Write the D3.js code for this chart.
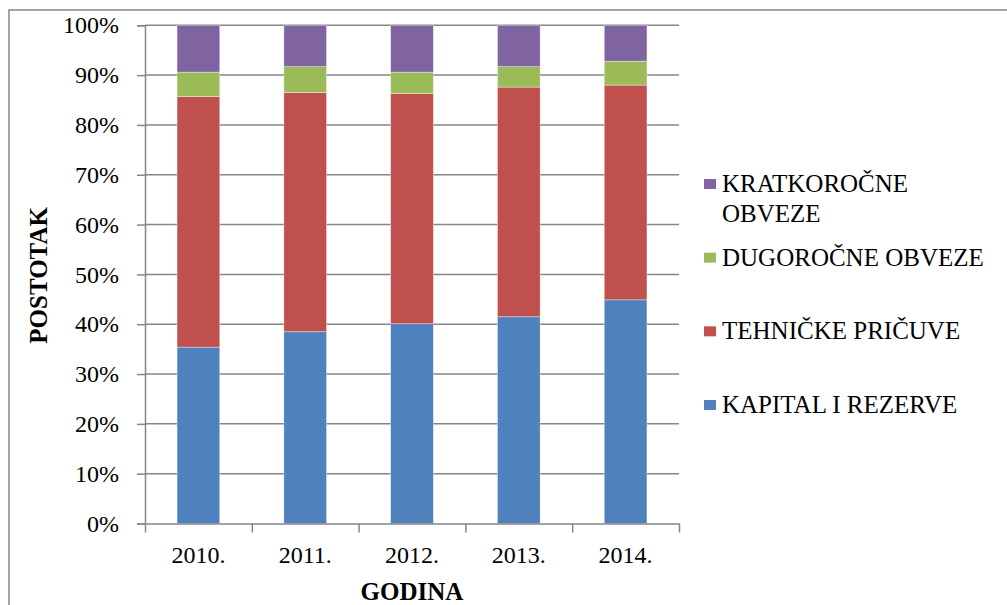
<!doctype html>
<html>
<head>
<meta charset="utf-8">
<style>
  body { margin: 0; background: #fff; }
  text { font-family: "Liberation Serif", "Times New Roman", serif; fill: #000; }
</style>
<script src="https://d3js.org/d3.v7.min.js"></script>
</head>
<body>
<svg width="1007" height="605" class="chart"></svg>
<script>
// data (percent of total per year)
var years = ["2010.", "2011.", "2012.", "2013.", "2014."];
var kapital = [35.4, 38.5, 40.1, 41.5, 44.9];
var tehnicke = [50.3, 48.0, 46.2, 46.1, 43.1];
var dugorocne = [4.9, 5.2, 4.3, 4.1, 4.8];
var kratkorocne = [9.4, 8.3, 9.4, 8.3, 7.2];
var seriesNames = ["KAPITAL I REZERVE", "TEHNIČKE PRIČUVE", "DUGOROČNE OBVEZE", "KRATKOROČNE OBVEZE"];
var seriesColors = ["#4F81BD", "#C0504D", "#9BBB59", "#8064A2"];
var yTicks = [0, 0.1, 0.2, 0.3, 0.4, 0.5, 0.6, 0.7, 0.8, 0.9, 1];

var rows = years.map(function(y, i) {
    var r = { year: y };
    r[seriesNames[0]] = kapital[i];
    r[seriesNames[1]] = tehnicke[i];
    r[seriesNames[2]] = dugorocne[i];
    r[seriesNames[3]] = kratkorocne[i];
    return r;
});

var svg = d3.select(".chart");
var plotLeft = 145, plotRight = 679, plotTop = 25.3, plotBottom = 523.5;
var gridColor = "#868686";

// outer frame
svg.append("rect")
   .attr("x", 9).attr("y", 10)
   .attr("width", 1100).attr("height", 700)
   .attr("fill", "none")
   .attr("stroke", gridColor)
   .attr("stroke-width", 1.5);

var x = d3.scaleBand().domain(years).range([plotLeft, plotRight]).paddingInner(0.6).paddingOuter(0.3);
var xTickScale = d3.scaleLinear().domain([0, years.length]).range([plotLeft, plotRight]);
var y = d3.scaleLinear().domain([0, 1]).range([plotBottom, plotTop]);

var stack = d3.stack().keys(seriesNames).offset(d3.stackOffsetExpand);
var stacked = stack(rows);

// gridlines
svg.append("g").selectAll("line")
   .data(yTicks.slice(1))
   .enter().append("line")
   .attr("x1", plotLeft).attr("x2", plotRight)
   .attr("y1", function(d) { return y(d); })
   .attr("y2", function(d) { return y(d); })
   .attr("stroke", gridColor)
   .attr("stroke-width", 1.5);

// bars
svg.append("g").selectAll("g")
   .data(stacked)
   .enter().append("g")
   .attr("fill", function(d, i) { return seriesColors[i]; })
   .selectAll("rect")
   .data(function(d) { return d; })
   .enter().append("rect")
   .attr("x", function(d) { return x(d.data.year); })
   .attr("width", x.bandwidth())
   .attr("y", function(d) { return y(d[1]); })
   .attr("height", function(d) { return y(d[0]) - y(d[1]); })
   .attr("stroke", "#ffffff")
   .attr("stroke-opacity", 0.5)
   .attr("stroke-width", 0.75);

// y axis
var yAxis = svg.append("g")
   .attr("transform", "translate(" + plotLeft + ",0)")
   .call(d3.axisLeft(y).tickValues(yTicks).tickFormat(d3.format(".0%")).tickSize(8).tickPadding(18));
yAxis.select(".domain").attr("stroke", gridColor).attr("stroke-width", 1.5);
yAxis.selectAll(".tick line").attr("stroke", gridColor).attr("stroke-width", 1.5);
yAxis.selectAll("text").attr("font-size", "24px").attr("font-family", "Liberation Serif").attr("fill", "#000");

// x axis: line with ticks on category boundaries
var xAxis = svg.append("g")
   .attr("transform", "translate(0," + plotBottom + ")")
   .call(d3.axisBottom(xTickScale).tickValues(d3.range(years.length + 1)).tickFormat("").tickSize(9).tickSizeOuter(0));
xAxis.select(".domain").attr("stroke", gridColor).attr("stroke-width", 1.5);
xAxis.selectAll(".tick line").attr("stroke", gridColor).attr("stroke-width", 1.5);

svg.append("g").selectAll("text")
   .data(years)
   .enter().append("text")
   .attr("x", function(d) { return x(d) + x.bandwidth() / 2; })
   .attr("y", 563)
   .attr("text-anchor", "middle")
   .attr("font-size", "24px")
   .text(function(d) { return d; });

// axis titles
svg.append("text")
   .attr("x", (plotLeft + plotRight) / 2)
   .attr("y", 600)
   .attr("text-anchor", "middle")
   .attr("font-size", "25px")
   .attr("font-weight", "bold")
   .text("GODINA");

svg.append("text")
   .attr("transform", "translate(47," + ((plotTop + plotBottom) / 2 + 1) + ") rotate(-90)")
   .attr("text-anchor", "middle")
   .attr("font-size", "25px")
   .attr("font-weight", "bold")
   .text("POSTOTAK");

// legend (top item = last series)
var legendOrder = seriesNames.slice().reverse();
var ly = d3.scalePoint().domain(legendOrder).range([184, 405]);
var legend = svg.append("g").selectAll("g")
   .data(legendOrder)
   .enter().append("g")
   .attr("transform", function(d) { return "translate(704," + ly(d) + ")"; });

legend.append("rect")
   .attr("x", 0).attr("y", -5)
   .attr("width", 12).attr("height", 10)
   .attr("fill", function(d) { return seriesColors[seriesNames.indexOf(d)]; });

legend.append("text")
   .attr("x", 18)
   .attr("y", 8)
   .attr("font-size", "25px")
   .each(function(d) {
       var t = d3.select(this);
       var words = d.split(" "), line = [];
       var tspan = t.append("tspan").attr("x", 18).attr("dy", 0);
       words.forEach(function(w) {
           line.push(w);
           tspan.text(line.join(" "));
           if (tspan.node().getComputedTextLength() > 275 && line.length > 1) {
               line.pop();
               tspan.text(line.join(" "));
               line = [w];
               tspan = t.append("tspan").attr("x", 18).attr("dy", 30).text(w);
           }
       });
   });
</script>
</body>
</html>
